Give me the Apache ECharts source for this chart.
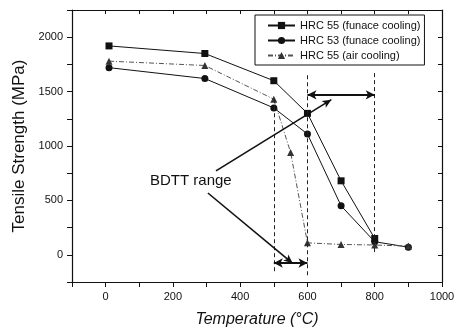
<!DOCTYPE html>
<html><head><meta charset="utf-8">
<script src="https://cdn.jsdelivr.net/npm/echarts@6/dist/echarts.min.js"></script>
<style>html,body{margin:0;padding:0;background:#fff}#c{width:460px;height:334px}</style>
</head><body><div id="c"></div>
<script>
const seriesNames = ['HRC 55 (funace cooling)', 'HRC 53 (funace cooling)', 'HRC 55 (air cooling)'];
const hrc55FurnaceT = [10, 295, 500, 600, 700, 800];
const hrc55FurnaceS = [1920, 1850, 1600, 1300, 680, 150];
const hrc53FurnaceT = [10, 295, 500, 600, 700, 800, 900];
const hrc53FurnaceS = [1720, 1620, 1350, 1110, 450, 120, 70];
const hrc55AirT = [10, 295, 500, 550, 600, 700, 800, 900];
const hrc55AirS = [1780, 1740, 1430, 940, 110, 95, 90, 80];
const xTickLabels = [0, 200, 400, 600, 800, 1000];
const yTickLabels = [0, 500, 1000, 1500, 2000];
// vertical dashed guide lines: [x, yTop, yBottom]
const guideLines = [[500, 1430, -170], [600, 1650, -200], [800, 1670, 0]];
// double-headed range arrows: [[x1,y1],[x2,y2]]
const rangeArrows = [[[600, 1470], [800, 1470]], [[500, -75], [600, -75]]];
// pointer arrows from the annotation text: [[from],[to]]
const pointerArrows = [[[328, 771], [671, 1426]], [[304, 568], [556, -78]]];
const annotationText = 'BDTT range';
const xTitle = 'Temperature (°C)';
const yTitle = 'Tensile Strength (MPa)';

const zip = (a, b) => a.map((v, i) => [v, b[i]]);
const FONT = 'Liberation Sans, Arial, sans-serif';
const chart = echarts.init(document.getElementById('c'), null, {renderer: 'canvas'});

const markData = [];
guideLines.forEach(g => markData.push([
  {coord: [g[0], g[1]], symbol: 'none', lineStyle: {type: [4, 3], width: 1, color: '#222'}},
  {coord: [g[0], g[2]], symbol: 'none'}
]));
rangeArrows.forEach(a => markData.push([
  {coord: a[0], symbol: 'arrow', symbolSize: [7, 9], lineStyle: {type: 'solid', width: 2, color: '#111'}},
  {coord: a[1], symbol: 'arrow', symbolSize: [7, 9]}
]));
pointerArrows.forEach(a => markData.push([
  {coord: a[0], symbol: 'none', lineStyle: {type: 'solid', width: 1.6, color: '#111'}},
  {coord: a[1], symbol: 'arrow', symbolSize: [6, 9]}
]));

const labelCol = '#111';
const axisLine = {show: true, onZero: false, lineStyle: {color: '#111', width: 1.2}};
const option = {
  animation: false,
  backgroundColor: '#fff',
  textStyle: {fontFamily: FONT},
  grid: {left: 72, right: 18, top: 10, bottom: 52},
  legend: {
    orient: 'vertical', left: 255, top: 15,
    padding: [5, 4, 4, 12], itemGap: 4, itemWidth: 27, itemHeight: 9,
    borderColor: '#111', borderWidth: 1,
    textStyle: {fontSize: 11, color: '#111', fontFamily: FONT},
    data: seriesNames
  },
  xAxis: [{
    type: 'value', min: -100, max: 1000, interval: 100, position: 'bottom',
    axisLine: axisLine,
    axisTick: {inside: false, length: 5, lineStyle: {color: '#111'}},
    axisLabel: {fontSize: 11, color: labelCol, margin: 9,
      formatter: v => xTickLabels.includes(v) ? String(v) : ''},
    splitLine: {show: false},
    name: xTitle, nameLocation: 'middle', nameGap: 30,
    nameTextStyle: {fontSize: 16, fontStyle: 'italic', color: '#111', fontFamily: FONT}
  }, {
    type: 'value', min: -100, max: 1000, interval: 100, position: 'top',
    axisLine: axisLine,
    axisTick: {show: true, inside: true, length: 4, lineStyle: {color: '#111'}},
    axisLabel: {show: false}, splitLine: {show: false}
  }],
  yAxis: [{
    type: 'value', min: -250, max: 2250, interval: 250, position: 'left',
    axisLine: axisLine,
    axisTick: {show: true, inside: false, length: 5, lineStyle: {color: '#111'}},
    axisLabel: {fontSize: 11, color: labelCol, margin: 9,
      formatter: v => yTickLabels.includes(v) ? String(v) : ''},
    splitLine: {show: false},
    name: yTitle, nameLocation: 'middle', nameGap: 43, nameRotate: 90,
    nameTextStyle: {fontSize: 17, color: '#111', fontFamily: FONT}
  }, {
    type: 'value', min: -250, max: 2250, interval: 250, position: 'right',
    axisLine: axisLine,
    axisTick: {show: true, inside: true, length: 4, lineStyle: {color: '#111'}},
    axisLabel: {show: false}, splitLine: {show: false}
  }],
  series: [{
    name: seriesNames[0], type: 'line', data: zip(hrc55FurnaceT, hrc55FurnaceS),
    symbol: 'rect', symbolSize: 7, color: '#111',
    lineStyle: {color: '#111', width: 1}, itemStyle: {color: '#111'}
  }, {
    name: seriesNames[1], type: 'line', data: zip(hrc53FurnaceT, hrc53FurnaceS),
    symbol: 'circle', symbolSize: 7, color: '#111',
    lineStyle: {color: '#111', width: 1}, itemStyle: {color: '#111'}
  }, {
    name: seriesNames[2], type: 'line', data: zip(hrc55AirT, hrc55AirS),
    symbol: 'triangle', symbolSize: 7, color: '#444',
    lineStyle: {color: '#555', width: 1, type: [5, 2, 1, 2]}, itemStyle: {color: '#333'}
  }, {
    name: 'annotations', type: 'line', data: [], silent: true,
    markLine: {silent: true, animation: false, label: {show: false},
      symbol: ['none', 'none'], data: markData}
  }],
  graphic: [{
    type: 'text', left: 150, top: 173,
    style: {text: annotationText, font: '15px ' + FONT, fill: '#111'}
  }]
};
chart.setOption(option);
</script>
</body></html>
